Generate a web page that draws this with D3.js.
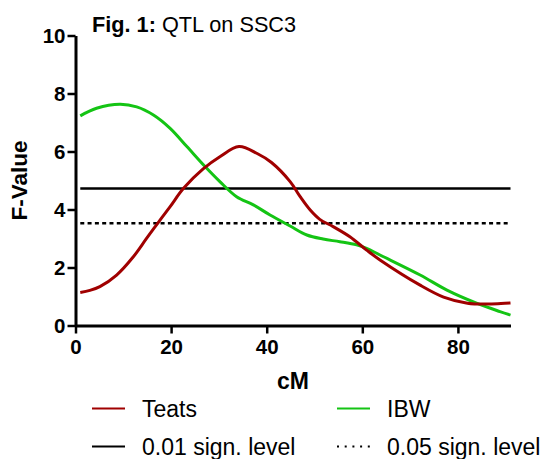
<!DOCTYPE html>
<html lang="en">
<head>
    <meta charset="UTF-8">
    <title>QTL on SSC3</title>
    <script src="https://d3js.org/d3.v7.min.js"></script>
    <style>
        body { margin: 0; background: #fff; }
        svg text { font-family: "Liberation Sans", Arial, Helvetica, sans-serif; fill: #000; }
    </style>
</head>
<body>
    <div id="chart"></div>

    <script>
        // positions along the chromosome (cM) and F-values
        const teatsCM = [1, 3, 5.1, 8.6, 12.1, 14.9, 17.3, 19.8, 22.6, 26.7, 30.2, 34.2, 38, 41, 44.9, 47, 49.1, 51.1, 53.9, 57.4, 60.9, 63.7, 72, 77, 82, 86, 89, 91];
        const teatsF  = [1.14, 1.21, 1.34, 1.74, 2.37, 3.01, 3.55, 4.10, 4.73, 5.40, 5.82, 6.17, 5.93, 5.62, 4.96, 4.44, 3.98, 3.66, 3.41, 3.06, 2.60, 2.26, 1.40, 0.98, 0.77, 0.74, 0.76, 0.78];

        const ibwCM = [1, 4.4, 9.3, 12.8, 16.3, 19.8, 23.3, 27.1, 30.2, 33.7, 37.2, 40.7, 44.9, 48.4, 51.8, 55.3, 58.8, 60.9, 63.7, 72.1, 77.7, 83.9, 88.8, 91];
        const ibwF  = [7.23, 7.49, 7.63, 7.54, 7.26, 6.80, 6.17, 5.48, 4.96, 4.44, 4.16, 3.81, 3.43, 3.12, 2.98, 2.89, 2.78, 2.66, 2.43, 1.74, 1.22, 0.77, 0.48, 0.36];

        const levelCM = [1, 91];
        const level01 = [4.72, 4.72];
        const level05 = [3.53, 3.53];

        const xTicks = [0, 20, 40, 60, 80];
        const yTicks = [0, 2, 4, 6, 8, 10];

        const legendItems = ["Teats", "IBW", "0.01 sign. level", "0.05 sign. level"];

        const red = "#a00000";
        const green = "#14c414";

        const width = 546, height = 459;
        const svg = d3.select("#chart").append("svg")
            .attr("width", width)
            .attr("height", height);

        const x = d3.scaleLinear().domain([0, 91]).range([75.5, 510.5]);
        const y = d3.scaleLinear().domain([0, 10]).range([325.5, 35.5]);

        // title
        const title = svg.append("text")
            .attr("x", 92)
            .attr("y", 31.5)
            .style("font-size", "21.7px");
        title.append("tspan").style("font-weight", "bold").text("Fig. 1:");
        title.append("tspan").text(" QTL on SSC3");

        // axes
        const xAxis = svg.append("g")
            .attr("transform", `translate(0,${y(0)})`)
            .call(d3.axisBottom(x).tickValues(xTicks).tickSize(8).tickPadding(6).tickSizeOuter(0));

        const yAxis = svg.append("g")
            .attr("transform", `translate(${x(0)},0)`)
            .call(d3.axisLeft(y).tickValues(yTicks).tickSize(8).tickPadding(2).tickSizeOuter(0));

        [xAxis, yAxis].forEach(g => {
            g.select(".domain").attr("stroke", "#000").attr("stroke-width", 3);
            g.selectAll(".tick line").attr("stroke", "#000").attr("stroke-width", 2.5);
            g.selectAll(".tick text")
                .style("font-size", "20.5px")
                .style("font-weight", "bold")
                .attr("fill", "#000");
        });
        yAxis.selectAll(".tick text").attr("dy", "0.36em");

        // axis titles
        svg.append("text")
            .attr("x", (x(0) + x(91)) / 2)
            .attr("y", 389)
            .attr("text-anchor", "middle")
            .style("font-size", "23px")
            .style("font-weight", "bold")
            .text("cM");

        svg.append("text")
            .attr("transform", `translate(26.5,${(y(0) + y(10)) / 2}) rotate(-90)`)
            .attr("text-anchor", "middle")
            .style("font-size", "22.5px")
            .style("font-weight", "bold")
            .text("F-Value");

        // significance levels
        const line = d3.line()
            .x(d => x(d[0]))
            .y(d => y(d[1]));

        svg.append("path")
            .datum(d3.zip(levelCM, level01))
            .attr("fill", "none")
            .attr("stroke", "#000")
            .attr("stroke-width", 2.5)
            .attr("d", line);

        svg.append("path")
            .datum(d3.zip(levelCM, level05))
            .attr("fill", "none")
            .attr("stroke", "#000")
            .attr("stroke-width", 2.5)
            .attr("stroke-dasharray", "4,3.3")
            .attr("d", line);

        // QTL curves
        const smooth = d3.line()
            .x(d => x(d[0]))
            .y(d => y(d[1]))
            .curve(d3.curveCatmullRom.alpha(0.5));

        svg.append("path")
            .datum(d3.zip(ibwCM, ibwF))
            .attr("fill", "none")
            .attr("stroke", green)
            .attr("stroke-width", 3)
            .attr("d", smooth);

        svg.append("path")
            .datum(d3.zip(teatsCM, teatsF))
            .attr("fill", "none")
            .attr("stroke", red)
            .attr("stroke-width", 3)
            .attr("d", smooth);

        // legend
        const legendStyle = [
            {color: red, dash: null},
            {color: green, dash: null},
            {color: "#000", dash: null},
            {color: "#000", dash: "2,5.7"}
        ];
        const legend = svg.append("g");
        legendItems.forEach((name, i) => {
            const col = i % 2, row = Math.floor(i / 2);
            const lx = col === 0 ? 92 : 337;
            const ly = row === 0 ? 408.5 : 446.5;
            legend.append("line")
                .attr("x1", lx).attr("x2", lx + 33)
                .attr("y1", ly).attr("y2", ly)
                .attr("stroke", legendStyle[i].color)
                .attr("stroke-width", 2.2)
                .attr("stroke-dasharray", legendStyle[i].dash);
            legend.append("text")
                .attr("x", lx + 50)
                .attr("y", ly)
                .attr("dy", "0.36em")
                .style("font-size", "23px")
                .text(name);
        });
    </script>
</body>
</html>
